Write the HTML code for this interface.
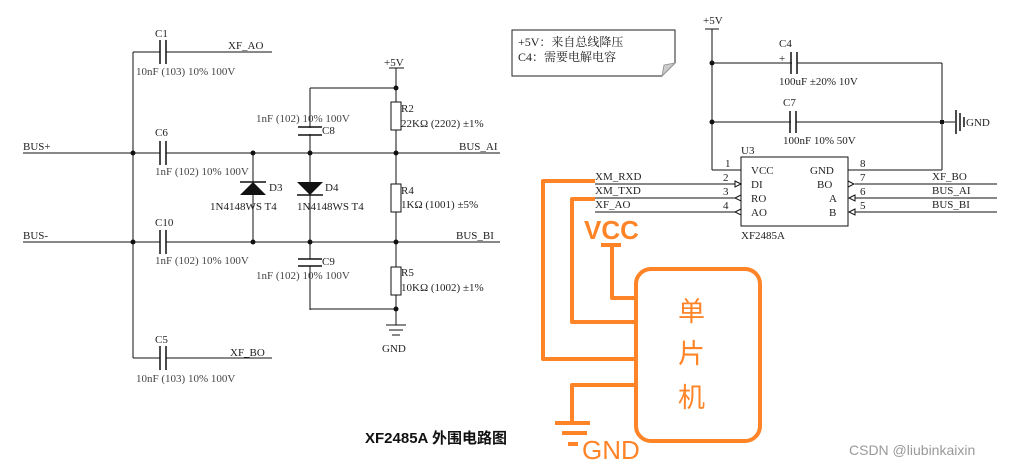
<!DOCTYPE html>
<html><head><meta charset="utf-8"><style>
html,body{margin:0;padding:0;background:#fff;}
svg{display:block;}
.s{font-family:"Liberation Serif","Noto Serif CJK SC",serif;font-size:11px;fill:#222;}
.g{font-family:"Liberation Serif",serif;font-size:11px;fill:#444;}
</style></head><body>
<svg width="1015" height="465" viewBox="0 0 1015 465" xmlns="http://www.w3.org/2000/svg">
<g stroke="#111" stroke-width="1" fill="none">
<!-- left section -->
<line x1="23" y1="153" x2="500" y2="153"/>
<line x1="23" y1="242" x2="500" y2="242"/>
<line x1="133" y1="52" x2="272" y2="52"/>
<line x1="133" y1="358" x2="272" y2="358"/>
<line x1="133" y1="52" x2="133" y2="358"/>
<line x1="253" y1="153" x2="253" y2="242"/>
<line x1="310" y1="88" x2="310" y2="310"/>
<line x1="310" y1="88" x2="396" y2="88"/>
<line x1="310" y1="309" x2="396" y2="309"/>
<line x1="396" y1="68" x2="396" y2="325"/>
<line x1="389" y1="68" x2="404" y2="68"/>
<line x1="386" y1="325" x2="406" y2="325"/>
<line x1="389" y1="330" x2="403" y2="330"/>
<line x1="392" y1="335" x2="400" y2="335"/>
</g>
<!-- caps left (gaps) -->
<g fill="#fff" stroke="none">
<rect x="160.5" y="40" width="5" height="24"/><rect x="160.5" y="141" width="5" height="24"/>
<rect x="160.5" y="230" width="5" height="24"/><rect x="160.5" y="346" width="5" height="24"/>
<rect x="298" y="128" width="24" height="6"/><rect x="298" y="259" width="24" height="7"/>
<rect x="391" y="102" width="10" height="28"/><rect x="391" y="184" width="10" height="28"/><rect x="391" y="267" width="10" height="28"/>
</g>
<g stroke="#111" stroke-width="1.5">
<line x1="160" y1="40" x2="160" y2="64"/><line x1="166" y1="40" x2="166" y2="64"/>
<line x1="160" y1="141" x2="160" y2="165"/><line x1="166" y1="141" x2="166" y2="165"/>
<line x1="160" y1="230" x2="160" y2="254"/><line x1="166" y1="230" x2="166" y2="254"/>
<line x1="160" y1="346" x2="160" y2="370"/><line x1="166" y1="346" x2="166" y2="370"/>
<line x1="298" y1="127" x2="322" y2="127"/><line x1="298" y1="135" x2="322" y2="135"/>
<line x1="298" y1="259" x2="322" y2="259"/><line x1="298" y1="266" x2="322" y2="266"/>
</g>
<g stroke="#111" stroke-width="1" fill="none">
<rect x="391" y="102" width="10" height="28"/><rect x="391" y="184" width="10" height="28"/><rect x="391" y="267" width="10" height="28"/>
</g>
<!-- diodes -->
<polygon points="253,182 240,195 266,195" fill="#111"/>
<line x1="240" y1="182" x2="266" y2="182" stroke="#111" stroke-width="1.5"/>
<polygon points="297,182 323,182 310,195" fill="#111"/>
<line x1="297" y1="195" x2="323" y2="195" stroke="#111" stroke-width="1.5"/>
<g fill="#111">
<circle cx="133" cy="153" r="2.5"/><circle cx="133" cy="242" r="2.5"/>
<circle cx="253" cy="153" r="2.5"/><circle cx="253" cy="242" r="2.5"/>
<circle cx="310" cy="153" r="2.5"/><circle cx="310" cy="242" r="2.5"/>
<circle cx="396" cy="153" r="2.5"/><circle cx="396" cy="242" r="2.5"/>
<circle cx="396" cy="88" r="2.5"/><circle cx="396" cy="309" r="2.5"/>
</g>
<g class="s">
<text x="155" y="37">C1</text><text x="228" y="49">XF_AO</text>
<text x="155" y="136">C6</text><text x="23" y="150">BUS+</text><text x="459" y="150">BUS_AI</text>
<text x="155" y="226">C10</text><text x="23" y="239">BUS-</text><text x="456" y="239">BUS_BI</text>
<text x="155" y="343">C5</text><text x="230" y="356">XF_BO</text>
<text x="384" y="66">+5V</text><text x="382" y="352">GND</text>
<text x="322" y="134">C8</text><text x="322" y="265">C9</text>
<text x="269" y="191">D3</text><text x="325" y="191">D4</text>
<text x="210" y="210">1N4148WS T4</text><text x="297" y="210">1N4148WS T4</text>
<text x="401" y="112">R2</text><text x="401" y="127">22KΩ (2202) ±1%</text>
<text x="401" y="194">R4</text><text x="401" y="208">1KΩ (1001) ±5%</text>
<text x="401" y="276">R5</text><text x="401" y="291">10KΩ (1002) ±1%</text>
</g>
<g class="g">
<text x="136" y="75">10nF (103) 10% 100V</text>
<text x="155" y="175">1nF (102) 10% 100V</text>
<text x="155" y="264">1nF (102) 10% 100V</text>
<text x="136" y="382">10nF (103) 10% 100V</text>
<text x="256" y="122">1nF (102) 10% 100V</text>
<text x="256" y="279">1nF (102) 10% 100V</text>
</g>
<!-- note -->
<path d="M512,30 H675 V63 L662,76 H512 Z" fill="#fff" stroke="#222"/>
<path d="M662,76 L664,65 L675,63 Z" fill="#ccc" stroke="#999"/>
<text class="s" x="518" y="46" style="font-size:12px">+5V：来自总线降压</text>
<text class="s" x="518" y="61" style="font-size:12px">C4：需要电解电容</text>
<!-- right circuit -->
<g stroke="#111" stroke-width="1" fill="none">
<line x1="705" y1="29" x2="719" y2="29"/>
<line x1="712" y1="29" x2="712" y2="170"/>
<line x1="712" y1="63" x2="942" y2="63"/>
<line x1="712" y1="122" x2="955" y2="122"/>
<line x1="942" y1="63" x2="942" y2="170"/>
<line x1="712" y1="170" x2="741" y2="170"/>
<line x1="848" y1="170" x2="942" y2="170"/>
<rect x="741" y="157" width="107" height="69"/>
<line x1="595" y1="184" x2="735" y2="184"/>
<line x1="595" y1="198" x2="735" y2="198"/>
<line x1="595" y1="212" x2="735" y2="212"/>
<line x1="855" y1="184" x2="997" y2="184"/>
<line x1="855" y1="198" x2="997" y2="198"/>
<line x1="855" y1="212" x2="997" y2="212"/>
<path d="M735,181 L741,184 L735,187 Z"/>
<path d="M741,195 L735,198 L741,201 Z"/>
<path d="M741,209 L735,212 L741,215 Z"/>
<path d="M848,181 L854,184 L848,187"/>
<path d="M855,195 L849,198 L855,201 Z"/>
<path d="M855,209 L849,212 L855,215 Z"/>
</g>
<g fill="#fff"><rect x="792" y="52" width="5" height="22"/><rect x="791" y="111" width="5" height="22"/></g>
<g stroke="#111" stroke-width="1.5">
<line x1="791" y1="52" x2="791" y2="74"/><line x1="797" y1="52" x2="797" y2="74"/>
<line x1="790" y1="111" x2="790" y2="133"/><line x1="796" y1="111" x2="796" y2="133"/>
<line x1="956" y1="110" x2="956" y2="134"/><line x1="960" y1="113" x2="960" y2="131"/><line x1="964" y1="117" x2="964" y2="127"/>
</g>
<g fill="#111"><circle cx="712" cy="63" r="2.5"/><circle cx="712" cy="122" r="2.5"/><rect x="940" y="120" width="4" height="4"/></g>
<g class="s">
<text x="703" y="24">+5V</text>
<text x="779" y="47">C4</text><text x="779" y="62">+</text>
<text x="779" y="85">100uF ±20% 10V</text>
<text x="783" y="106">C7</text>
<text x="783" y="144">100nF 10% 50V</text>
<text x="966" y="126">GND</text>
<text x="741" y="154">U3</text>
<text x="741" y="239">XF2485A</text>
<text x="725" y="167">1</text><text x="723" y="181">2</text><text x="723" y="195">3</text><text x="723" y="209">4</text>
<text x="860" y="167">8</text><text x="860" y="181">7</text><text x="860" y="195">6</text><text x="860" y="209">5</text>
<text x="751" y="174">VCC</text><text x="751" y="188">DI</text><text x="751" y="202">RO</text><text x="751" y="216">AO</text>
<text x="810" y="174">GND</text><text x="817" y="188">BO</text><text x="829" y="202">A</text><text x="829" y="216">B</text>
<text x="595" y="180">XM_RXD</text><text x="595" y="194">XM_TXD</text><text x="595" y="208">XF_AO</text>
<text x="932" y="180">XF_BO</text><text x="932" y="194">BUS_AI</text><text x="932" y="208">BUS_BI</text>
</g>
<!-- orange -->
<g stroke="#FF8427" stroke-width="4" fill="none" stroke-linejoin="round">
<polyline points="595,181 543,181 543,359 636,359"/>
<polyline points="595,199 572,199 572,322 636,322"/>
<line x1="601" y1="245" x2="621" y2="245"/>
<polyline points="612,245 612,298 636,298"/>
<rect x="636" y="269" width="124" height="172" rx="15"/>
<polyline points="636,385 572,385 572,423"/>
<line x1="555" y1="423" x2="590" y2="423"/>
<line x1="562" y1="433" x2="587" y2="433"/>
<line x1="568" y1="444" x2="578" y2="444"/>
</g>
<g fill="#FF8427" font-family="'Liberation Sans','Noto Sans CJK SC',sans-serif">
<text x="584" y="239" font-size="26" font-weight="bold">VCC</text>
<text x="582" y="459" font-size="26">GND</text>
<text x="678" y="321" font-size="27">单</text>
<text x="678" y="363" font-size="27">片</text>
<text x="678" y="407" font-size="27">机</text>
</g>
<text x="365" y="443" font-family="'Liberation Sans','Noto Sans CJK SC',sans-serif" font-size="15" font-weight="bold" fill="#111">XF2485A 外围电路图</text>
<text x="849" y="455" font-family="'Liberation Sans',sans-serif" font-size="14" fill="#999">CSDN @liubinkaixin</text>
</svg>
</body></html>
